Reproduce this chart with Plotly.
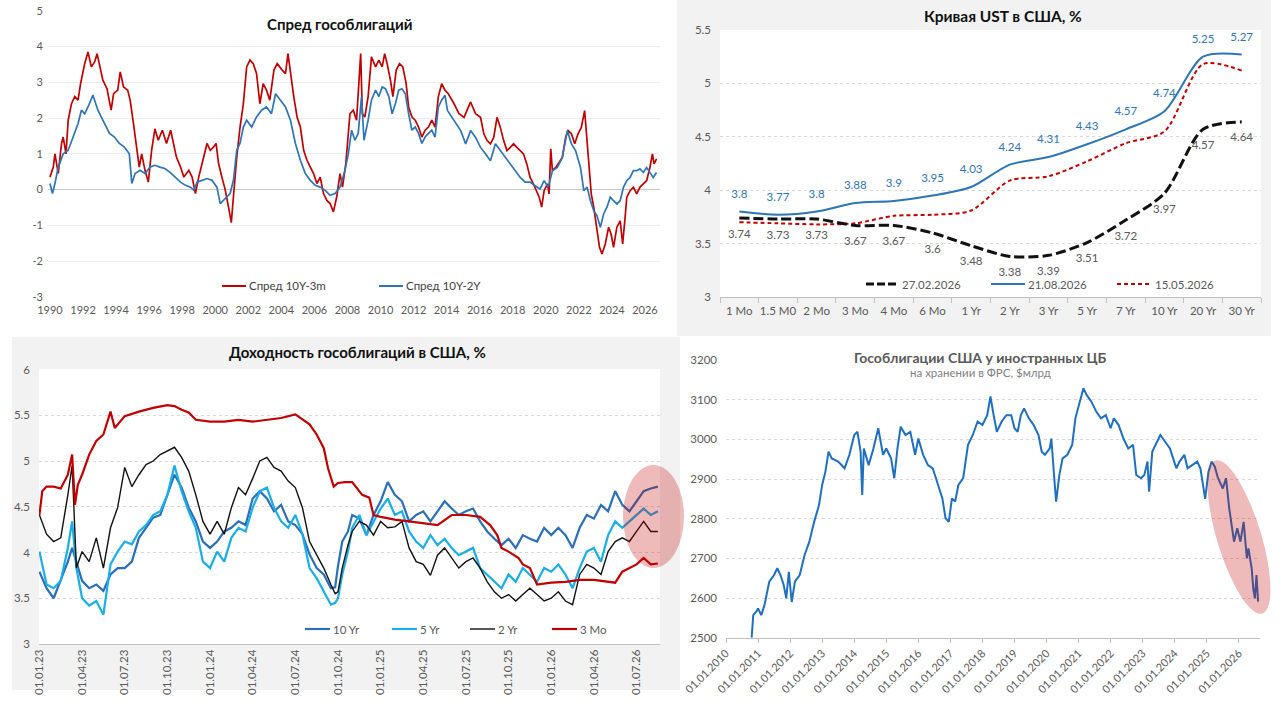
import math
import plotly.graph_objects as go

W, H = 1280, 706
FONT = "Lato, 'Open Sans', sans-serif"
GREY_TXT = "#595959"
RED = "#c00000"
BLUE = "#2e75b6"
LIGHT_BLUE = "#19aee8"

# ---------------- Panel A: spreads ----------------
spread_3m_years = [
    1990.0, 1990.2, 1990.3, 1990.5, 1990.7, 1990.8, 1990.97, 1991.1, 1991.3, 1991.5, 1991.7, 1991.85,
    1992.1, 1992.3, 1992.5, 1992.7, 1992.85, 1993.0, 1993.2, 1993.45, 1993.7, 1993.85,
    1994.1, 1994.25, 1994.45, 1994.7, 1994.85, 1995.05, 1995.25, 1995.4, 1995.55, 1995.75, 1995.95,
    1996.15, 1996.35, 1996.55, 1996.8, 1997.05, 1997.3, 1997.45, 1997.65, 1997.9,
    1998.1, 1998.4, 1998.6, 1998.8, 1999.0, 1999.3, 1999.5, 1999.7, 1999.9,
    2000.05, 2000.2, 2000.4, 2000.6, 2000.8, 2000.97, 2001.1, 2001.3, 2001.5, 2001.7, 2001.9,
    2002.1, 2002.3, 2002.5, 2002.7, 2002.9, 2003.1, 2003.3, 2003.55, 2003.75,
    2004.05, 2004.25, 2004.4, 2004.55, 2004.75, 2004.95, 2005.15, 2005.35, 2005.55, 2005.75, 2005.95,
    2006.15, 2006.35, 2006.55, 2006.75, 2006.95, 2007.15, 2007.35, 2007.55, 2007.7, 2007.9,
    2008.15, 2008.35, 2008.55, 2008.8, 2008.9, 2009.05, 2009.25, 2009.45, 2009.7, 2009.9,
    2010.1, 2010.25, 2010.4, 2010.6, 2010.75, 2010.95, 2011.15, 2011.35, 2011.55, 2011.7, 2011.9,
    2012.1, 2012.3, 2012.5, 2012.7, 2012.9, 2013.1, 2013.3, 2013.5, 2013.7, 2013.9,
    2014.1, 2014.45, 2014.75, 2015.05, 2015.45, 2015.75, 2016.05, 2016.25, 2016.45, 2016.65, 2016.85,
    2017.05, 2017.25, 2017.45, 2017.65, 2017.85, 2018.05, 2018.25, 2018.45, 2018.65, 2018.85,
    2019.05, 2019.25, 2019.45, 2019.6, 2019.75, 2019.9, 2020.1, 2020.2, 2020.3, 2020.4, 2020.6, 2020.8,
    2021.0, 2021.2, 2021.35, 2021.55, 2021.75, 2021.95, 2022.15, 2022.35, 2022.45, 2022.6, 2022.75, 2022.9,
    2023.1, 2023.25, 2023.4, 2023.6, 2023.8, 2023.95, 2024.1, 2024.3, 2024.5, 2024.65, 2024.8, 2024.9,
    2025.1, 2025.3, 2025.5, 2025.7, 2025.9, 2026.1, 2026.3, 2026.45, 2026.55, 2026.7,
]
spread_10y3m = [
    0.35, 0.63, 1.0, 0.45, 1.29, 1.47, 1.0, 1.94, 2.4, 2.6, 2.5, 2.96,
    3.52, 3.85, 3.43, 3.57, 3.8, 3.52, 3.06, 2.82, 2.22, 2.68,
    2.78, 3.29, 2.87, 2.78, 2.5, 1.85, 1.19, 0.63, 1.0, 0.54, 0.21,
    1.1, 1.7, 1.38, 1.66, 1.29, 1.66, 1.29, 0.91, 0.63,
    0.35, 0.54, 0.35, -0.11, 0.35, 0.91, 1.29, 1.1, 1.19,
    1.29, 0.73, 0.35, 0.0, -0.48, -0.92, -0.2, 0.91, 1.75, 2.4, 3.43,
    3.62, 3.52, 3.24, 2.4, 2.96, 2.78, 2.5, 3.34, 3.52,
    3.34, 3.24, 3.8, 3.24, 2.6, 2.03, 1.75, 1.1, 0.82, 0.63, 0.45,
    0.17, 0.35, -0.11, -0.3, -0.39, -0.62, -0.2, 0.45, 0.07, 0.73,
    2.12, 2.22, 1.94, 3.8, 2.12, 2.03, 2.6, 3.71, 3.43, 3.62,
    3.43, 3.8, 3.52, 3.06, 2.6, 3.34, 3.52, 3.43, 2.96, 2.31, 2.03,
    1.94, 1.75, 1.47, 1.66, 1.75, 1.94, 1.75, 2.6, 2.96, 2.78,
    2.68, 2.4, 2.12, 2.02, 2.45, 2.12, 2.02, 1.56, 1.37, 1.28, 1.46,
    2.02, 1.74, 1.37, 1.09, 1.18, 1.28, 1.18, 1.09, 1.0, 0.72,
    0.34, 0.16, -0.03, -0.21, -0.49, -0.03, 0.16, -0.12, 1.14, 0.53, 0.62, 0.76,
    0.9, 1.46, 1.65, 1.56, 1.28, 1.56, 1.74, 2.21, 1.56, 0.62, -0.12, -0.49,
    -1.15, -1.61, -1.8, -1.52, -1.05, -1.24, -1.61, -1.05, -0.87, -1.52, -0.77, -0.21,
    -0.03, 0.07, -0.12, 0.07, 0.16, 0.25, 0.62, 1.0, 0.72, 0.86,
]
spread_2y_years = [
    1990.0, 1990.15, 1990.3, 1990.5, 1990.8, 1991.1, 1991.4, 1991.7, 1991.9,
    1992.1, 1992.3, 1992.6, 1992.7, 1992.9, 1993.1, 1993.3, 1993.6, 1993.9,
    1994.2, 1994.5, 1994.8, 1994.95, 1995.15, 1995.45, 1995.75,
    1996.05, 1996.35, 1996.65, 1996.95, 1997.25, 1997.55, 1997.9,
    1998.2, 1998.5, 1998.7, 1998.9, 1999.2, 1999.5, 1999.8,
    2000.1, 2000.3, 2000.5, 2000.7, 2000.9, 2001.1, 2001.3, 2001.5, 2001.7, 2001.9,
    2002.2, 2002.5, 2002.8, 2003.1, 2003.4, 2003.65, 2003.95,
    2004.25, 2004.55, 2004.85, 2005.15, 2005.45, 2005.75,
    2006.05, 2006.35, 2006.65, 2006.95, 2007.25, 2007.55, 2007.85,
    2008.05, 2008.25, 2008.45, 2008.65, 2008.85, 2009.0, 2009.25, 2009.45, 2009.7, 2009.9,
    2010.1, 2010.3, 2010.5, 2010.7, 2010.9, 2011.1, 2011.3, 2011.5, 2011.7, 2011.9,
    2012.1, 2012.3, 2012.5, 2012.7, 2012.9, 2013.1, 2013.3, 2013.5, 2013.7, 2013.9,
    2014.05, 2014.45, 2014.85, 2015.15, 2015.45, 2015.75,
    2016.05, 2016.35, 2016.65, 2016.95, 2017.25, 2017.55, 2017.85,
    2018.15, 2018.45, 2018.75, 2019.05, 2019.35, 2019.65, 2019.9,
    2020.15, 2020.4, 2020.7, 2021.0, 2021.3, 2021.55, 2021.8,
    2022.1, 2022.3, 2022.5, 2022.7, 2022.9, 2023.1, 2023.3, 2023.5, 2023.7, 2023.9,
    2024.1, 2024.3, 2024.5, 2024.7, 2024.9, 2025.1, 2025.3, 2025.5, 2025.7, 2025.9,
    2026.1, 2026.3, 2026.5, 2026.7,
]
spread_10y2y = [
    0.17, -0.11, 0.17, 0.63, 1.0, 1.1, 1.47, 1.85, 2.22,
    2.12, 2.31, 2.64, 2.5, 2.22, 2.03, 1.85, 1.57, 1.47,
    1.29, 1.19, 1.0, 0.17, 0.45, 0.54, 0.45,
    0.63, 0.68, 0.63, 0.59, 0.49, 0.35, 0.21,
    0.12, 0.07, -0.02, 0.21, 0.26, 0.31, 0.26,
    0.07, -0.39, -0.3, -0.2, -0.11, 0.26, 1.1, 1.3, 1.75, 1.94,
    1.75, 2.03, 2.22, 2.31, 2.12, 2.68, 2.5,
    2.31, 1.94, 1.29, 0.82, 0.45, 0.26,
    0.12, 0.07, -0.02, -0.16, -0.11, 0.07, 0.54,
    1.0, 1.66, 1.38, 1.57, 2.6, 1.38, 1.94, 2.5, 2.78, 2.6,
    2.87, 2.82, 2.6, 2.12, 2.4, 2.78, 2.82, 2.68, 2.12, 1.66,
    1.75, 1.57, 1.29, 1.47, 1.57, 1.66, 1.47, 2.31, 2.5, 2.64,
    2.21, 1.93, 1.65, 1.28, 1.65, 1.46,
    1.18, 1.0, 0.81, 1.28, 1.09, 0.9, 0.72,
    0.53, 0.34, 0.21, 0.21, 0.11, 0.02, 0.25,
    0.07, 0.53, 0.62, 0.9, 1.65, 1.28, 1.09,
    0.62, -0.03, 0.07, -0.31, -0.59, -0.73, -1.05, -0.68, -0.49, -0.21,
    -0.31, -0.4, -0.31, 0.07, 0.25, 0.34, 0.53, 0.53, 0.58, 0.48,
    0.62, 0.48, 0.34, 0.48,
]
spread_ticks = list(range(1990, 2027, 2))
spread_yticks = [5, 4, 3, 2, 1, 0, -1, -2, -3]

# ---------------- Panel B: UST curve ----------------
tenors = ["1 Mo", "1.5 M0", "2 Mo", "3 Mo", "4 Mo", "6 Mo", "1 Yr", "2 Yr",
          "3 Yr", "5 Yr", "7 Yr", "10 Yr", "20 Yr", "30 Yr"]
curve_27_02_2026 = [3.74, 3.73, 3.73, 3.67, 3.67, 3.6, 3.48, 3.38, 3.39, 3.51, 3.72, 3.97, 4.57, 4.64]
curve_21_08_2026 = [3.8, 3.77, 3.8, 3.88, 3.9, 3.95, 4.03, 4.24, 4.31, 4.43, 4.57, 4.74, 5.25, 5.27]
curve_15_05_2026 = [3.70, 3.69, 3.68, 3.69, 3.76, 3.77, 3.81, 4.09, 4.13, 4.27, 4.44, 4.55, 5.18, 5.12]

# ---------------- Panel C: yields (months since 01.01.2023) ----------------
yield_t = [0, 0.5, 1, 1.5, 2, 2.3, 2.6, 3, 3.5, 4, 4.5, 5, 5.5, 6, 6.5, 7, 7.5, 8, 8.5, 9, 9.5,
           10, 10.5, 11, 11.5, 12, 12.5, 13, 13.5, 14, 14.5, 15, 15.5, 16, 16.5, 17, 17.5, 18, 18.5,
           19, 19.5, 20, 20.5, 20.8, 21, 21.3, 21.7, 22, 22.5, 23, 23.5, 24, 24.5, 25, 25.5, 26, 26.5,
           27, 27.5, 28, 28.5, 29, 29.5, 30, 30.5, 31, 31.5, 32, 32.5, 33, 33.5, 34, 34.5, 35, 35.5,
           36, 36.5, 37, 37.5, 38, 38.5, 39, 39.5, 40, 40.5, 41, 41.5, 42, 42.5, 43, 43.5]
yield_10y = [3.79, 3.61, 3.5, 3.69, 3.9, 4.05, 3.9, 3.69, 3.61, 3.65, 3.58, 3.76, 3.83, 3.83, 3.9, 4.16, 4.27,
             4.38, 4.41, 4.63, 4.85, 4.71, 4.49, 4.34, 4.12, 4.05, 4.12, 4.23, 4.27, 4.34, 4.3, 4.59, 4.67,
             4.59, 4.45, 4.52, 4.34, 4.3, 4.2, 3.98, 3.83, 3.76, 3.61, 3.62, 3.85, 4.12, 4.23, 4.41, 4.37,
             4.19, 4.41, 4.56, 4.77, 4.63, 4.56, 4.34, 4.41, 4.45, 4.34, 4.45, 4.56, 4.48, 4.41, 4.45, 4.48,
             4.34, 4.23, 4.15, 4.08, 4.15, 4.05, 4.19, 4.15, 4.12, 4.27, 4.19, 4.27, 4.19, 4.05, 4.27, 4.41,
             4.37, 4.52, 4.45, 4.67, 4.52, 4.45, 4.56, 4.67, 4.7, 4.72]
yield_5y = [4.01, 3.65, 3.61, 3.69, 4.05, 4.34, 3.83, 3.5, 3.42, 3.47, 3.32, 3.87, 4.01, 4.12, 4.09, 4.23, 4.3,
            4.41, 4.45, 4.63, 4.95, 4.67, 4.45, 4.27, 3.9, 3.83, 4.01, 3.9, 4.16, 4.27, 4.23, 4.49, 4.67,
            4.71, 4.49, 4.34, 4.27, 4.41, 4.2, 3.83, 3.72, 3.58, 3.43, 3.45, 3.5, 3.76, 4.01, 4.27, 4.41,
            4.19, 4.34, 4.48, 4.59, 4.41, 4.45, 4.23, 4.12, 4.05, 4.19, 4.08, 4.15, 4.05, 3.97, 4.01, 4.05,
            3.83, 3.76, 3.68, 3.61, 3.76, 3.68, 3.83, 3.76, 3.68, 3.83, 3.79, 3.87, 3.76, 3.61, 3.83, 4.01,
            4.05, 3.9, 4.19, 4.34, 4.27, 4.34, 4.41, 4.48, 4.41, 4.45]
yield_2y = [4.41, 4.2, 4.12, 4.16, 4.63, 4.95, 3.83, 4.01, 3.9, 4.16, 3.83, 4.27, 4.49, 4.93, 4.72, 4.85, 4.96,
            5.0, 5.07, 5.11, 5.15, 5.04, 4.89, 4.63, 4.34, 4.2, 4.34, 4.2, 4.49, 4.71, 4.63, 4.81, 5.0,
            5.04, 4.93, 4.89, 4.78, 4.71, 4.49, 4.12, 3.98, 3.83, 3.65, 3.55, 3.57, 3.83, 4.08, 4.23, 4.34,
            4.3, 4.19, 4.34, 4.27, 4.28, 4.34, 4.05, 3.9, 3.87, 3.75, 3.97, 4.05, 3.94, 3.83, 3.9, 3.94,
            3.83, 3.68, 3.57, 3.5, 3.54, 3.47, 3.54, 3.61, 3.54, 3.47, 3.5, 3.57, 3.47, 3.43, 3.76, 3.87,
            3.83, 3.76, 4.01, 4.12, 4.16, 4.12, 4.23, 4.34, 4.23, 4.23]
bill_t = [0, 0.2, 0.5, 1, 1.5, 2, 2.3, 2.4, 2.5, 2.7, 3, 3.5, 4, 4.5, 5, 5.3, 5.5, 6, 7, 8, 9, 9.5, 10, 10.5,
          11, 12, 13, 14, 15, 16, 17, 18, 19, 19.5, 20, 20.3, 20.7, 21, 21.5, 22, 22.7, 23.2, 23.5, 24,
          25, 26, 27, 28, 29, 30, 31, 31.7, 32.2, 32.5, 33, 33.7, 34, 34.5, 35, 36, 37, 38, 39, 40, 40.5,
          41, 42, 42.5, 43, 43.5]
yield_3m = [4.41, 4.67, 4.72, 4.72, 4.7, 4.85, 5.07, 4.85, 4.52, 4.74, 4.85, 5.07, 5.22, 5.29, 5.54, 5.36,
            5.4, 5.49, 5.54, 5.58, 5.61, 5.6, 5.56, 5.53, 5.45, 5.43, 5.43, 5.45, 5.43, 5.45, 5.47, 5.51,
            5.4, 5.29, 5.14, 4.92, 4.72, 4.76, 4.77, 4.77, 4.63, 4.6, 4.41, 4.39, 4.36, 4.34, 4.32, 4.3,
            4.41, 4.41, 4.39, 4.3, 4.19, 4.05, 4.01, 3.94, 3.87, 3.83, 3.65, 3.67, 3.68, 3.7, 3.7, 3.68,
            3.67, 3.79, 3.87, 3.94, 3.87, 3.88]
yield_tickvals = list(range(0, 43, 3))
yield_ticktext = ["01.01.23", "01.04.23", "01.07.23", "01.10.23", "01.01.24", "01.04.24", "01.07.24",
                  "01.10.24", "01.01.25", "01.04.25", "01.07.25", "01.10.25", "01.01.26", "01.04.26",
                  "01.07.26"]

# ---------------- Panel D: foreign CB custody holdings ----------------
custody_years = [
    2010.8, 2010.85, 2010.95, 2011.0, 2011.1, 2011.2, 2011.35, 2011.5, 2011.6, 2011.7, 2011.8, 2011.88,
    2011.96, 2012.05, 2012.15, 2012.3, 2012.45, 2012.6, 2012.75, 2012.9,
    2013.0, 2013.1, 2013.2, 2013.3, 2013.5, 2013.7, 2013.85,
    2014.0, 2014.1, 2014.2, 2014.25, 2014.3, 2014.45, 2014.6, 2014.75, 2014.9,
    2015.0, 2015.15, 2015.25, 2015.35, 2015.45, 2015.6, 2015.75, 2015.9,
    2016.0, 2016.15, 2016.3, 2016.45, 2016.55, 2016.65, 2016.75, 2016.85, 2016.95,
    2017.05, 2017.15, 2017.25, 2017.4, 2017.55, 2017.7, 2017.85,
    2018.0, 2018.15, 2018.25, 2018.35, 2018.45, 2018.6, 2018.75, 2018.9,
    2019.0, 2019.1, 2019.2, 2019.3, 2019.45, 2019.6, 2019.75, 2019.85, 2019.95,
    2020.1, 2020.15, 2020.25, 2020.3, 2020.4, 2020.5, 2020.65, 2020.8, 2020.9,
    2021.05, 2021.15, 2021.25, 2021.4, 2021.55, 2021.7, 2021.85,
    2022.0, 2022.1, 2022.25, 2022.4, 2022.55, 2022.7, 2022.8, 2022.95,
    2023.05, 2023.15, 2023.2, 2023.3, 2023.45, 2023.55, 2023.7, 2023.85, 2023.95,
    2024.05, 2024.15, 2024.3, 2024.4, 2024.55, 2024.7, 2024.8, 2024.95,
    2025.05, 2025.15, 2025.25, 2025.35, 2025.5, 2025.6, 2025.7, 2025.8, 2025.85, 2025.95,
    2026.05, 2026.15, 2026.25, 2026.3, 2026.4, 2026.45, 2026.5, 2026.55, 2026.6,
]
custody_bn = [
    2500, 2557, 2566, 2574, 2557, 2582, 2641, 2658, 2675, 2658, 2633, 2599,
    2666, 2590, 2641, 2658, 2708, 2742, 2792, 2834,
    2885, 2918, 2969, 2952, 2944, 2927, 2961,
    3011, 3019, 2969, 2860, 2977, 2935, 2977, 3028, 2961,
    2977, 2952, 2902, 2977, 3032, 3011, 3019, 2961,
    3002, 2961, 2935, 2927, 2902, 2876, 2851, 2801, 2792,
    2851, 2843, 2885, 2902, 2986, 3011, 3045,
    3036, 3061, 3108, 3061, 3019, 3045, 3061, 3061,
    3028, 3019, 3061, 3078, 3053, 3036, 3011, 2969, 2961,
    2977, 3002, 2893, 2843, 2910, 2952, 2961, 2986, 3053,
    3095, 3129, 3112, 3095, 3070, 3053, 3061,
    3028, 3053, 3036, 3002, 2977, 2986, 2910, 2902,
    2910, 2944, 2868, 2969, 2994, 3011, 2994, 2977, 2952,
    2927, 2944, 2961, 2927, 2935, 2944, 2927, 2850,
    2918, 2944, 2931, 2902, 2876, 2902, 2826, 2776, 2742, 2776,
    2742, 2792, 2700, 2725, 2675, 2624, 2599, 2658, 2591,
]
custody_tick_years = list(range(2010, 2027))
custody_ticktext = ["01.01.%d" % y for y in custody_tick_years]


# ---------------- helpers (pixel -> paper) ----------------
def px(x):
    return x / W


def py(y):
    return 1 - y / H


fig = go.Figure()

# Panel A traces
fig.add_trace(go.Scatter(x=spread_3m_years, y=spread_10y3m, mode="lines", name="Спред 10Y-3m",
                         line=dict(color=RED, width=1.7), xaxis="x", yaxis="y"))
fig.add_trace(go.Scatter(x=spread_2y_years, y=spread_10y2y, mode="lines", name="Спред 10Y-2Y",
                         line=dict(color=BLUE, width=1.7), xaxis="x", yaxis="y"))

# Panel B traces
fig.add_trace(go.Scatter(x=tenors, y=curve_15_05_2026, mode="lines", name="15.05.2026",
                         line=dict(color=RED, width=2, dash="4px,3px", shape="spline", smoothing=0.8),
                         xaxis="x2", yaxis="y2"))
fig.add_trace(go.Scatter(x=tenors, y=curve_27_02_2026, mode="lines+markers+text", name="27.02.2026",
                         line=dict(color="#111111", width=3, dash="10px,4px", shape="spline", smoothing=0.8),
                         marker=dict(size=16, opacity=0),
                         text=[str(v) for v in curve_27_02_2026], textposition="bottom center",
                         textfont=dict(size=11.5, color=GREY_TXT, family=FONT),
                         xaxis="x2", yaxis="y2"))
fig.add_trace(go.Scatter(x=tenors, y=curve_21_08_2026, mode="lines+markers+text", name="21.08.2026",
                         line=dict(color=BLUE, width=2, shape="spline", smoothing=0.8),
                         marker=dict(size=16, opacity=0),
                         text=[str(v) for v in curve_21_08_2026], textposition="top center",
                         textfont=dict(size=11.5, color=BLUE, family=FONT),
                         xaxis="x2", yaxis="y2"))

# Panel C traces
fig.add_trace(go.Scatter(x=yield_t, y=yield_10y, mode="lines", name="10 Yr",
                         line=dict(color="#2a6fb8", width=2.2), xaxis="x3", yaxis="y3"))
fig.add_trace(go.Scatter(x=yield_t, y=yield_5y, mode="lines", name="5 Yr",
                         line=dict(color=LIGHT_BLUE, width=2.2), xaxis="x3", yaxis="y3"))
fig.add_trace(go.Scatter(x=yield_t, y=yield_2y, mode="lines", name="2 Yr",
                         line=dict(color="#111111", width=1.4), xaxis="x3", yaxis="y3"))
fig.add_trace(go.Scatter(x=bill_t, y=yield_3m, mode="lines", name="3 Mo",
                         line=dict(color=RED, width=2.2), xaxis="x3", yaxis="y3"))

# Panel D trace
fig.add_trace(go.Scatter(x=custody_years, y=custody_bn, mode="lines", name="custody",
                         line=dict(color="#1f6fc1", width=2), xaxis="x4", yaxis="y4"))

tickfont = dict(size=11, color=GREY_TXT, family=FONT)

fig.update_layout(
    width=W, height=H, margin=dict(l=0, r=0, t=0, b=0, autoexpand=False),
    paper_bgcolor="white", plot_bgcolor="rgba(0,0,0,0)",
    showlegend=False, font=dict(family=FONT, color=GREY_TXT),
    # Panel A
    xaxis=dict(domain=[px(48), px(660)], range=[1989.88, 2026.91], anchor="y", automargin=False,
               tickvals=spread_ticks, ticktext=[str(v) for v in spread_ticks], tickangle=0,
               showgrid=False, zeroline=False, showline=False, ticks="", tickfont=tickfont,
               ticklabelstandoff=5),
    yaxis=dict(domain=[py(297), py(10.7)], range=[-3, 5], anchor="x", automargin=False,
               tickvals=spread_yticks, ticktext=[str(v) for v in spread_yticks],
               showgrid=True, gridcolor="#ececec", gridwidth=1, ticklabelstandoff=4,
               zeroline=True, zerolinecolor="#c8c8c8", zerolinewidth=1, tickfont=tickfont),
    # Panel B
    xaxis2=dict(domain=[px(720), px(1261)], type="category", range=[-0.5, 13.5], anchor="y2",
                automargin=False, tickangle=0, ticklabelstandoff=3,
                showgrid=False, zeroline=False, showline=True, linecolor="#bfbfbf",
                ticks="outside", tickson="boundaries", ticklen=5, tickcolor="#bfbfbf",
                tickfont=dict(size=11.5, color=GREY_TXT, family=FONT)),
    yaxis2=dict(domain=[py(297), py(30)], range=[3, 5.5], dtick=0.5, anchor="x2", automargin=False,
                showgrid=True, gridcolor="#d9d9d9", griddash="dot", zeroline=False,
                tickfont=dict(size=11.5, color=GREY_TXT, family=FONT), ticklabelstandoff=8),
    # Panel C
    xaxis3=dict(domain=[px(39), px(660)], range=[-0.03, 43.65], anchor="y3", automargin=False,
                tickvals=yield_tickvals, ticktext=yield_ticktext, tickangle=-90,
                showgrid=False, zeroline=False, showline=True, linecolor="#bfbfbf",
                ticks="", tickfont=dict(size=11.5, color=GREY_TXT, family=FONT)),
    yaxis3=dict(domain=[py(644), py(369.5)], range=[3, 6], dtick=0.5, anchor="x3", automargin=False,
                showgrid=True, gridcolor="#d9d9d9", griddash="dot", zeroline=False,
                tickfont=dict(size=11.5, color=GREY_TXT, family=FONT), ticklabelstandoff=8),
    # Panel D
    xaxis4=dict(domain=[px(726), px(1260)], range=[2010, 2026.66], anchor="y4", automargin=False,
                tickvals=custody_tick_years, ticktext=custody_ticktext, tickangle=-45,
                showgrid=False, zeroline=False, showline=True, linecolor="#bfbfbf",
                ticks="outside", ticklen=4, tickcolor="#bfbfbf",
                tickfont=dict(size=11, color=GREY_TXT, family=FONT)),
    yaxis4=dict(domain=[py(637.7), py(360)], range=[2500, 3200], dtick=100, anchor="x4", automargin=False,
                showgrid=True, gridcolor="#d9d9d9", griddash="dot", zeroline=False,
                tickfont=dict(size=11.5, color=GREY_TXT, family=FONT), ticklabelstandoff=8),
)

shapes = []


def rect(x0, y0, x1, y1, color, layer="below"):
    shapes.append(dict(type="rect", xref="paper", yref="paper", x0=px(x0), x1=px(x1),
                       y0=py(y1), y1=py(y0), fillcolor=color, line=dict(width=0), layer=layer))


# panel backgrounds
rect(677, 0, 1271, 336, "#f2f2f2")
rect(720, 30, 1261, 297, "white")
rect(12, 337, 680, 690, "#f2f2f2")
rect(39, 369, 660, 644, "white")

# highlight ellipse in panel C
shapes.append(dict(type="circle", xref="paper", yref="paper", x0=px(623), x1=px(684),
                   y0=py(568), y1=py(465), fillcolor="rgba(192,0,0,0.27)",
                   line=dict(width=0), layer="above"))


# rotated highlight ellipse in panel D (cubic Bezier approximation)
def ellipse_path(cx, cy, a, b, ang_deg):
    r = math.radians(ang_deg)
    ux, uy = math.sin(r), math.cos(r)
    vx, vy = uy, -ux
    k = 0.5523

    def P(x, y):
        X = cx + x * a * ux + y * b * vx
        Y = cy + x * a * uy + y * b * vy
        return "%.5f,%.5f" % (px(X), py(Y))

    segs = [((1, k), (k, 1), (0, 1)), ((-k, 1), (-1, k), (-1, 0)),
            ((-1, -k), (-k, -1), (0, -1)), ((k, -1), (1, -k), (1, 0))]
    d = "M " + P(1, 0)
    for c1, c2, e in segs:
        d += " C " + P(*c1) + " " + P(*c2) + " " + P(*e)
    return d + " Z"


shapes.append(dict(type="path", xref="paper", yref="paper", path=ellipse_path(1239, 537, 80, 22, 17),
                   fillcolor="rgba(192,0,0,0.27)", line=dict(width=0), layer="above"))


# manual legend symbols
def leg_line(x0, x1, y, color, width, dash="solid"):
    shapes.append(dict(type="line", xref="paper", yref="paper", x0=px(x0), x1=px(x1),
                       y0=py(y), y1=py(y), line=dict(color=color, width=width, dash=dash)))


leg_line(222, 246, 286, RED, 2)
leg_line(379, 403, 286, BLUE, 2)
leg_line(866, 899, 284, "#111111", 3, "8px,3px")
leg_line(991, 1025, 284, BLUE, 2)
leg_line(1117, 1151, 284, RED, 2, "4px,3px")
leg_line(305, 330, 629, "#2a6fb8", 2.2)
leg_line(392, 417, 629, LIGHT_BLUE, 2.2)
leg_line(470, 495, 629, "#111111", 1.4)
leg_line(552, 577, 629, RED, 2.2)

fig.update_layout(shapes=shapes)

annotations = []


def text(x, y, s, size=11, color=GREY_TXT, bold=False, anchor="left"):
    annotations.append(dict(xref="paper", yref="paper", x=px(x), y=py(y), text=("<b>%s</b>" % s) if bold else s,
                            showarrow=False, xanchor=anchor, yanchor="middle",
                            font=dict(size=size, color=color, family=FONT)))


# titles
text(340, 24, "Спред гособлигаций", 15, "#111111", True, "center")
text(1003, 16, "Кривая UST в США, %", 15.5, "#111111", True, "center")
text(357, 352, "Доходность гособлигаций в США, %", 15, "#111111", True, "center")
text(980, 357, "Гособлигации США у иностранных ЦБ", 14, GREY_TXT, True, "center")
text(980, 373, "на хранении в ФРС, $млрд", 11.5, "#7f7f7f", False, "center")

# legend labels
text(247, 286, "Спред 10Y-3m", 11.5, "#404040")
text(404, 286, "Спред 10Y-2Y", 11.5, "#404040")
text(900, 284, "27.02.2026", 11.5, GREY_TXT)
text(1026, 284, "21.08.2026", 11.5, GREY_TXT)
text(1153, 284, "15.05.2026", 11.5, GREY_TXT)
text(331, 629, "10 Yr", 11.5, GREY_TXT)
text(418, 629, "5 Yr", 11.5, GREY_TXT)
text(496, 629, "2 Yr", 11.5, GREY_TXT)
text(578, 629, "3 Mo", 11.5, GREY_TXT)

fig.update_layout(annotations=annotations)

fig.write_html("out.html", config={"displayModeBar": False},
               post_script="document.body.style.margin='0';document.body.style.overflow='hidden';")
